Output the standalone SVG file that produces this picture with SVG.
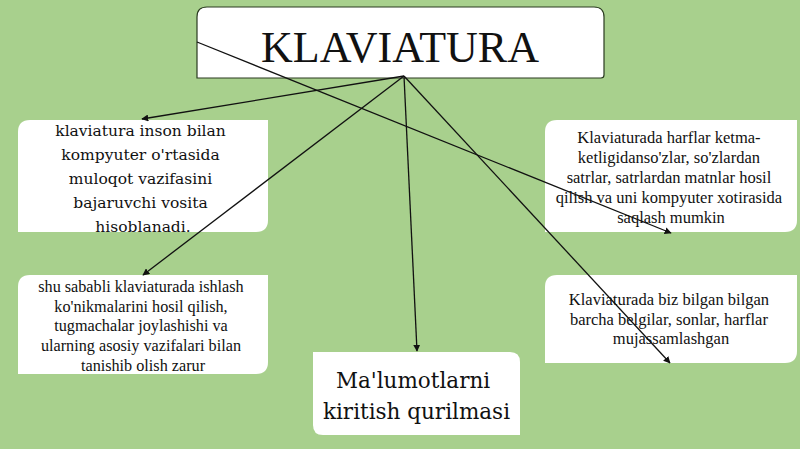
<svg xmlns="http://www.w3.org/2000/svg" width="800" height="449" viewBox="0 0 800 449">
<defs>
<style>
.box{fill:#ffffff;}
.t{font-family:"Liberation Serif","Times New Roman",serif;fill:#111;text-anchor:middle;}
.d{font-family:"DejaVu Serif",serif;fill:#111;text-anchor:middle;}
.c{stroke:#111;stroke-width:1.3;fill:none;marker-end:url(#ah);}
</style>
<marker id="ah" viewBox="0 0 10 10" refX="9" refY="5" markerWidth="7" markerHeight="7" orient="auto" markerUnits="userSpaceOnUse">
<path d="M0,0 L10,5 L0,10 z" fill="#111"/>
</marker>
</defs>
<rect width="800" height="449" fill="#a8d08d"/>

<g id="title">
<path d="M207,7 H594 Q604,7 604,17 V75 Q604,78 601,78 H197 V17 Q197,7 207,7 Z" fill="#fff" stroke="#2a3a20" stroke-width="1.2"/>
<text class="t" x="400" y="62" font-size="44">KLAVIATURA</text>
</g>

<g id="box1">
<path d="M30,120 H268 V220 Q268,232 256,232 H18 V132 Q18,120 30,120 Z" class="box"/>
<text class="d" font-size="15.5" x="143">
<tspan x="143" y="136">klaviatura inson bilan</tspan>
<tspan x="143" y="160">kompyuter o'rtasida</tspan>
<tspan x="143" y="184">muloqot vazifasini</tspan>
<tspan x="143" y="208">bajaruvchi vosita</tspan>
<tspan x="143" y="232">hisoblanadi.</tspan>
</text>
</g>

<g id="box2">
<path d="M30,275 H268 V362 Q268,374 256,374 H18 V287 Q18,275 30,275 Z" class="box"/>
<text class="t" font-size="16.2">
<tspan x="143" y="292">shu sababli klaviaturada ishlash</tspan>
<tspan x="143" y="312">ko'nikmalarini hosil qilish,</tspan>
<tspan x="143" y="331">tugmachalar joylashishi va</tspan>
<tspan x="143" y="351">ularning asosiy vazifalari bilan</tspan>
<tspan x="143" y="371">tanishib olish zarur</tspan>
</text>
</g>

<g id="box3">
<path d="M313,352 H510 Q520,352 520,362 V435 H323 Q313,435 313,425 Z" class="box"/>
<text class="d" font-size="21.5">
<tspan x="416.5" y="388">Ma'lumotlarni</tspan>
<tspan x="416.5" y="419">kiritish qurilmasi</tspan>
</text>
</g>

<g id="box4">
<path d="M557,120 H797 V220 Q797,232 785,232 H545 V132 Q545,120 557,120 Z" class="box"/>
<text class="t" font-size="16.5">
<tspan x="671" y="143">Klaviaturada harflar ketma-</tspan>
<tspan x="671" y="163">ketligidanso'zlar, so'zlardan</tspan>
<tspan x="671" y="183">satrlar, satrlardan matnlar hosil</tspan>
<tspan x="671" y="203">qilish va uni kompyuter xotirasida</tspan>
<tspan x="671" y="223">saqlash mumkin</tspan>
</text>
</g>

<g id="box5">
<path d="M557,275 H797 V351 Q797,363 785,363 H545 V287 Q545,275 557,275 Z" class="box"/>
<text class="t" font-size="16.5">
<tspan x="671" y="305">Klaviaturada biz bilgan bilgan</tspan>
<tspan x="671" y="325">barcha belgilar, sonlar, harflar</tspan>
<tspan x="671" y="344">mujassamlashgan</tspan>
</text>
</g>

<g id="connectors">
<line class="c" x1="404" y1="76" x2="142" y2="119"/>
<line class="c" x1="404" y1="76" x2="143" y2="275"/>
<line class="c" x1="404" y1="76" x2="417" y2="351"/>
<line class="c" x1="404" y1="76" x2="670" y2="363"/>
<line class="c" x1="197" y1="42" x2="671" y2="233"/>
</g>
</svg>
